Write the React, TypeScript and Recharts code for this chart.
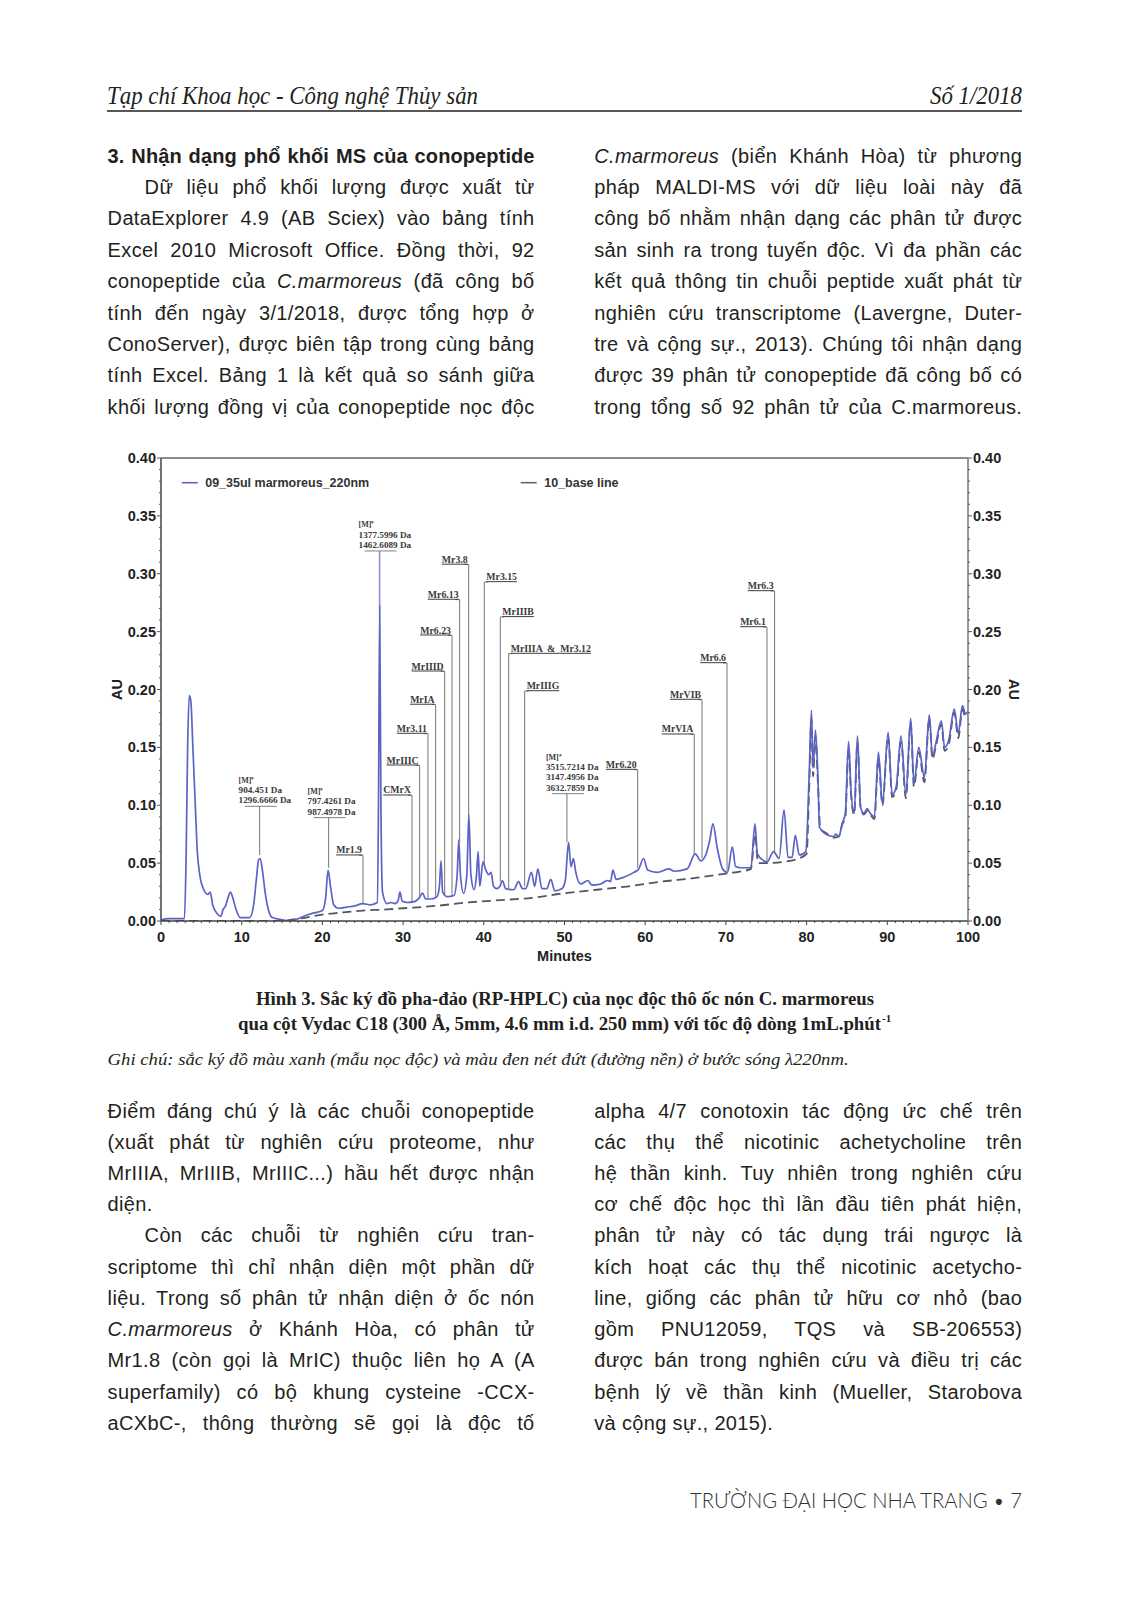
import React from 'react';
import { LineChart, Line, XAxis, YAxis, ReferenceLine, ReferenceDot } from 'recharts';

// chromatogram of the venom sample, [minutes, AU]
const sampleTrace: [number, number][] = [
  [0, 0.001], [1, 0.002], [2, 0.002], [2.9, 0.002], [3.1, 0.05], [3.3, 0.15], [3.5, 0.195], [3.7, 0.19],
  [3.95, 0.15], [4.25, 0.1], [4.5, 0.06], [4.8, 0.04], [5.3, 0.027], [5.8, 0.023], [6.1, 0.025], [6.4, 0.014],
  [7.0, 0.006], [7.4, 0.004], [7.7, 0.01], [8.0, 0.013], [8.3, 0.02], [8.6, 0.025], [8.9, 0.02], [9.3, 0.01],
  [9.8, 0.003], [11.0, 0.003], [11.5, 0.015], [11.8, 0.035], [12.1, 0.053], [12.3, 0.054], [12.6, 0.042],
  [12.9, 0.025], [13.3, 0.01], [13.8, 0.003], [15, 0.001], [16, 0.0], [17, 0.002], [18, 0.005], [19, 0.007],
  [20, 0.009], [20.4, 0.02], [20.7, 0.044], [21.0, 0.03], [21.4, 0.014], [22, 0.011], [23, 0.012], [24, 0.013],
  [25, 0.015], [26, 0.014], [26.8, 0.016], [26.95, 0.1], [27.1, 0.272], [27.25, 0.1], [27.45, 0.025],
  [28, 0.015], [28.5, 0.016], [29, 0.015], [29.4, 0.018], [29.6, 0.025], [29.9, 0.017], [30.5, 0.016],
  [31.5, 0.017], [32, 0.02], [32.4, 0.024], [32.8, 0.019], [33.5, 0.019], [34.2, 0.021], [34.5, 0.03],
  [34.7, 0.052], [34.9, 0.025], [35.5, 0.021], [36.3, 0.022], [36.7, 0.04], [36.9, 0.07], [37.1, 0.04],
  [37.5, 0.024], [37.9, 0.04], [38.15, 0.092], [38.4, 0.04], [38.8, 0.027], [39.1, 0.04], [39.3, 0.06],
  [39.5, 0.03], [39.9, 0.051], [40.2, 0.045], [40.6, 0.04], [40.9, 0.042], [41.2, 0.03], [41.6, 0.028],
  [42, 0.03], [42.3, 0.035], [42.7, 0.028], [43.7, 0.027], [44.3, 0.034], [44.8, 0.028], [45.2, 0.028],
  [45.9, 0.042], [46.3, 0.03], [46.7, 0.045], [47.2, 0.028], [47.8, 0.028], [48.3, 0.036], [48.8, 0.026],
  [49.7, 0.028], [50.1, 0.035], [50.5, 0.068], [50.8, 0.047], [51.1, 0.054], [51.4, 0.042], [52, 0.032],
  [52.9, 0.035], [53.4, 0.031], [54.5, 0.032], [55.3, 0.035], [55.7, 0.034], [56, 0.044], [56.4, 0.036],
  [57.4, 0.038], [58.6, 0.042], [59.2, 0.045], [59.8, 0.054], [60.3, 0.044], [61.5, 0.042], [62.9, 0.045],
  [63.6, 0.043], [65.2, 0.045], [66.2, 0.058], [66.9, 0.052], [67.5, 0.057], [68, 0.07], [68.4, 0.084],
  [68.9, 0.064], [69.6, 0.045], [70.2, 0.042], [70.8, 0.064], [71.2, 0.047], [71.8, 0.046], [73.1, 0.046],
  [73.6, 0.084], [73.9, 0.058], [74.7, 0.052], [75.1, 0.051], [75.9, 0.06], [76.6, 0.054], [77.2, 0.096],
  [77.7, 0.055], [78.2, 0.055], [78.6, 0.074], [79.1, 0.057], [79.9, 0.06], [80.3, 0.122], [80.6, 0.182],
  [80.8, 0.132], [81.1, 0.165], [81.4, 0.124], [81.6, 0.081], [82.4, 0.075], [83.4, 0.073], [83.6, 0.075],
  [84, 0.073], [84.4, 0.084], [84.8, 0.093], [85.2, 0.155], [85.5, 0.113], [85.9, 0.093], [86.3, 0.16],
  [86.7, 0.098], [87.1, 0.093], [87.5, 0.097], [87.9, 0.093], [88.4, 0.09], [88.9, 0.146], [89.4, 0.101],
  [90.1, 0.163], [90.6, 0.109], [91.1, 0.116], [91.7, 0.16], [92.3, 0.109], [92.9, 0.175], [93.3, 0.119],
  [93.9, 0.15], [94.6, 0.124], [95.2, 0.178], [95.6, 0.142], [96, 0.153], [96.7, 0.173], [97.1, 0.15],
  [97.6, 0.156], [98.3, 0.183], [98.8, 0.162], [99.3, 0.186], [99.7, 0.179], [100, 0.181],
];

// blank run (base line), [minutes, AU]
const baselineTrace: [number, number][] = [
  [0, 0.0], [5, 0.0], [10, 0.0], [15, 0.0], [16, 0.001], [18, 0.003], [20, 0.0055], [22, 0.007], [25, 0.009],
  [28, 0.01], [30, 0.011], [34, 0.013], [38, 0.016], [42, 0.018], [46, 0.02], [50, 0.024], [54, 0.027],
  [58, 0.03], [62, 0.034], [66, 0.037], [70, 0.041], [72, 0.043], [73.1, 0.045], [73.6, 0.075], [74, 0.05],
  [75, 0.05], [77, 0.051], [79, 0.054], [80, 0.058], [80.3, 0.11], [80.6, 0.175], [80.8, 0.125], [81.1, 0.16],
  [81.4, 0.12], [81.7, 0.08], [82.4, 0.076], [83.4, 0.072], [84, 0.073], [84.4, 0.083], [84.8, 0.09],
  [85.2, 0.15], [85.5, 0.11], [85.9, 0.092], [86.3, 0.155], [86.7, 0.097], [87.1, 0.092], [87.5, 0.095],
  [87.9, 0.092], [88.4, 0.088], [88.9, 0.14], [89.4, 0.1], [90.1, 0.16], [90.6, 0.107], [91.1, 0.113],
  [91.7, 0.155], [92.3, 0.106], [92.9, 0.172], [93.3, 0.116], [93.9, 0.146], [94.6, 0.12], [95.2, 0.175],
  [95.6, 0.14], [96, 0.15], [96.7, 0.17], [97.1, 0.147], [97.6, 0.152], [98.3, 0.18], [98.8, 0.158],
  [99.3, 0.183], [99.7, 0.176], [100, 0.178],
];

const seriesNames = ['09_35ul marmoreus_220nm', '10_base line'];
const seriesColors = ['#5b63c4', '#555560'];

const yMajorLabels = ['0.00', '0.05', '0.10', '0.15', '0.20', '0.25', '0.30', '0.35', '0.40'];
const xMajorLabels = ['0', '10', '20', '30', '40', '50', '60', '70', '80', '90', '100'];

// identified conopeptides: name, retention time, label height, foot of the marker line
const peptideNames = ['Mr1.9', 'CMrX', 'MrIIIC', 'Mr3.11', 'MrIA', 'MrIIID', 'Mr6.23', 'Mr6.13', 'Mr3.8',
  'Mr3.15', 'MrIIIB', 'MrIIIA  &  Mr3.12', 'MrIIIG', 'Mr6.20', 'MrVIA', 'MrVIB', 'Mr6.6', 'Mr6.1', 'Mr6.3'];
const peptideMinutes = [25.03, 31.1, 32.05, 33.08, 34.03, 35.15, 36.06, 37.0, 38.12,
  40.06, 42.05, 43.08, 45.06, 59.06, 66.08, 67.04, 70.14, 75.09, 76.03];
const peptideTops = [0.0568, 0.1086, 0.1345, 0.1619, 0.187, 0.2157, 0.2468, 0.2777, 0.308,
  0.2929, 0.2627, 0.231, 0.1987, 0.1308, 0.1613, 0.1913, 0.2229, 0.254, 0.2851];
const peptideBottoms = [0.0155, 0.017, 0.021, 0.019, 0.021, 0.022, 0.022, 0.068, 0.09,
  0.05, 0.034, 0.028, 0.03, 0.046, 0.057, 0.054, 0.043, 0.051, 0.058];
const peptideSides = ['L', 'L', 'L', 'L', 'L', 'L', 'L', 'L', 'L', 'R', 'R', 'R', 'R', 'L', 'L', 'L', 'L', 'L', 'L'];

// MALDI masses of unassigned peaks
const massTexts = [
  ['[M]⁺', '904.451 Da', '1296.6666 Da'],
  ['[M]⁺', '797.4261 Da', '987.4978 Da'],
  ['[M]⁺', '1377.5996 Da', '1462.6089 Da'],
  ['[M]⁺', '3515.7214 Da', '3147.4956 Da', '3632.7859 Da'],
];
const massMinutes = [12.22, 20.77, 27.09, 50.3];
const massTops = [0.0991, 0.0893, 0.3197, 0.11];
const massBottoms = [0.057, 0.046, 0.272, 0.068];

const xTicks = Array.from({ length: 101 }, (_, i) => i);
const yTicks = Array.from({ length: 41 }, (_, i) => i / 100);

type TL = { t: string; indent?: boolean; last?: boolean; bold?: boolean };

const topLeft: TL[] = [
  { t: '3. Nhận dạng phổ khối MS của conopeptide', bold: true },
  { t: 'Dữ liệu phổ khối lượng được xuất từ', indent: true },
  { t: 'DataExplorer 4.9 (AB Sciex) vào bảng tính' },
  { t: 'Excel 2010 Microsoft Office. Đồng thời, 92' },
  { t: 'conopeptide của *C.marmoreus* (đã công bố' },
  { t: 'tính đến ngày 3/1/2018, được tổng hợp ở' },
  { t: 'ConoServer), được biên tập trong cùng bảng' },
  { t: 'tính Excel. Bảng 1 là kết quả so sánh giữa' },
  { t: 'khối lượng đồng vị của conopeptide nọc độc' },
];
const topRight: TL[] = [
  { t: '*C.marmoreus* (biển Khánh Hòa) từ phương' },
  { t: 'pháp MALDI-MS với dữ liệu loài này đã' },
  { t: 'công bố nhằm nhận dạng các phân tử được' },
  { t: 'sản sinh ra trong tuyến độc. Vì đa phần các' },
  { t: 'kết quả thông tin chuỗi peptide xuất phát từ' },
  { t: 'nghiên cứu transcriptome (Lavergne, Duter-' },
  { t: 'tre và cộng sự., 2013). Chúng tôi nhận dạng' },
  { t: 'được 39 phân tử conopeptide đã công bố có' },
  { t: 'trong tổng số 92 phân tử của C.marmoreus.' },
];
const bottomLeft: TL[] = [
  { t: 'Điểm đáng chú ý là các chuỗi conopeptide' },
  { t: '(xuất phát từ nghiên cứu proteome, như' },
  { t: 'MrIIIA, MrIIIB, MrIIIC...) hầu hết được nhận' },
  { t: 'diện.', last: true },
  { t: 'Còn các chuỗi từ nghiên cứu tran-', indent: true },
  { t: 'scriptome thì chỉ nhận diện một phần dữ' },
  { t: 'liệu. Trong số phân tử nhận diện ở ốc nón' },
  { t: '*C.marmoreus* ở Khánh Hòa, có phân tử' },
  { t: 'Mr1.8 (còn gọi là MrIC) thuộc liên họ A (A' },
  { t: 'superfamily) có bộ khung cysteine -CCX-' },
  { t: 'aCXbC-, thông thường sẽ gọi là độc tố' },
];
const bottomRight: TL[] = [
  { t: 'alpha 4/7 conotoxin tác động ức chế trên' },
  { t: 'các thụ thể nicotinic achetycholine trên' },
  { t: 'hệ thần kinh. Tuy nhiên trong nghiên cứu' },
  { t: 'cơ chế độc học thì lần đầu tiên phát hiện,' },
  { t: 'phân tử này có tác dụng trái ngược là' },
  { t: 'kích hoạt các thụ thể nicotinic acetycho-' },
  { t: 'line, giống các phân tử hữu cơ nhỏ (bao' },
  { t: 'gồm PNU12059, TQS và SB-206553)' },
  { t: 'được bán trong nghiên cứu và điều trị các' },
  { t: 'bệnh lý về thần kinh (Mueller, Starobova' },
  { t: 'và cộng sự., 2015).', last: true },
];

const INK = '#231f20';
const SANS = '"Liberation Sans", Arial, sans-serif';
const SERIF = '"Liberation Serif", "Times New Roman", serif';

const TextLine = ({ x, y, w, line }: { x: number; y: number; w: number; line: TL }) => {
  const ind = line.indent ? 37 : 0;
  const parts = line.t.split('*');
  return (
    <div style={{
      position: 'absolute', left: x + ind, top: y - 16, width: w - ind, height: 32, lineHeight: '32px',
      fontSize: 20, fontFamily: SANS, fontWeight: line.bold ? 700 : 400, letterSpacing: line.bold ? 0.1 : 0.35,
      textAlign: 'justify', textAlignLast: line.last ? 'left' : 'justify', color: INK, whiteSpace: 'nowrap',
    }}>
      {parts.map((p, i) => (i % 2 ? <i key={i}>{p}</i> : <span key={i}>{p}</span>))}
    </div>
  );
};

const tickText = { fontFamily: SANS, fontSize: 14.5, fontWeight: 700, fill: '#222' };

const XTick = (props: any) => {
  const { x, y, payload } = props;
  const v = payload.value;
  const major = v % 10 === 0;
  return (
    <g>
      <line x1={x} x2={x} y1={y} y2={y + (major ? 4 : 2)} stroke="#444" strokeWidth={1} />
      {major && (
        <text x={x} y={y + 16} textAnchor="middle" dominantBaseline="central" style={tickText}>
          {xMajorLabels[v / 10]}
        </text>
      )}
    </g>
  );
};

const YTick = (props: any) => {
  const { x, y, payload, side } = props;
  const k = Math.round(payload.value * 100);
  const major = k % 5 === 0;
  const s = side === 'right' ? 1 : -1;
  return (
    <g>
      <line x1={x} x2={x + s * (major ? 4 : 2)} y1={y} y2={y} stroke="#555" strokeWidth={1} />
      {major && (
        <text x={x + s * 5} y={y} textAnchor={side === 'right' ? 'start' : 'end'} dominantBaseline="central" style={tickText}>
          {yMajorLabels[k / 5]}
        </text>
      )}
    </g>
  );
};

const PeptideTag = ({ cx, cy, name, side }: any) => {
  const left = side === 'L';
  return (
    <g>
      <line x1={left ? cx - 4 : cx} x2={left ? cx : cx + 4} y1={cy} y2={cy} stroke="#808080" strokeWidth={1.1} />
      <text x={left ? cx - 1 : cx + 2} y={cy - 1.8} textAnchor={left ? 'end' : 'start'}
        style={{ fontFamily: SERIF, fontSize: 9.8, fontWeight: 700, fill: '#3a3a3a', textDecoration: 'underline', whiteSpace: 'pre' }}>
        {name}
      </text>
    </g>
  );
};

const MassTag = ({ cx, cy, lines }: any) => {
  const n = lines.length;
  return (
    <g>
      <line x1={cx - 15} x2={cx + 17} y1={cy} y2={cy} stroke="#808080" strokeWidth={1} />
      {lines.map((s: string, i: number) => (
        <text key={i} x={cx - 21} y={cy - 3 - (n - 1 - i) * 10.3}
          style={{ fontFamily: SERIF, fontSize: i === 0 ? 8 : 9.2, fontWeight: 700, fill: '#3a3a3a' }}>
          {s}
        </text>
      ))}
    </g>
  );
};

const sampleData = sampleTrace.map(([t, au]) => ({ t, au }));
const baselineData = baselineTrace.map(([t, au]) => ({ t, au }));

const Chromatogram = () => (
  <div style={{ position: 'absolute', left: 100, top: 440, width: 930, height: 540 }}>
    <LineChart width={930} height={540} margin={{ top: 18, right: 12, bottom: 9, left: 11 }}>
      <XAxis dataKey="t" type="number" domain={[0, 100]} ticks={xTicks} interval={0} allowDataOverflow
        tickSize={0} tickMargin={0} height={50} tick={<XTick />} axisLine={{ stroke: '#444', strokeWidth: 1.5 }}
        label={{ content: ({ viewBox }: any) => (
          <text x={viewBox.x + viewBox.width / 2} y={viewBox.y + 35} textAnchor="middle" dominantBaseline="central"
            style={tickText}>Minutes</text>
        ) }} />
      <YAxis type="number" domain={[0, 0.4]} ticks={yTicks} interval={0} allowDataOverflow width={50}
        tickSize={0} tickMargin={0} tick={<YTick side="left" />} axisLine={{ stroke: '#444', strokeWidth: 1.5 }}
        label={{ content: ({ viewBox }: any) => (
          <text x={viewBox.x + 6} y={viewBox.y + viewBox.height / 2} textAnchor="middle" dominantBaseline="central"
            transform={`rotate(-90 ${viewBox.x + 6} ${viewBox.y + viewBox.height / 2})`}
            style={tickText}>AU</text>
        ) }} />
      <YAxis yAxisId="r" orientation="right" type="number" domain={[0, 0.4]} ticks={yTicks} interval={0} allowDataOverflow
        width={50} tickSize={0} tickMargin={0} tick={<YTick side="right" />} axisLine={{ stroke: '#777', strokeWidth: 1.5 }}
        label={{ content: ({ viewBox }: any) => (
          <text x={viewBox.x + 46} y={viewBox.y + viewBox.height / 2} textAnchor="middle" dominantBaseline="central"
            transform={`rotate(90 ${viewBox.x + 46} ${viewBox.y + viewBox.height / 2})`}
            style={tickText}>AU</text>
        ) }} />
      <ReferenceLine y={0.4} stroke="#8c8c8c" strokeWidth={2} />
      {peptideNames.map((n, i) => (
        <ReferenceLine key={'pl' + i} segment={[{ x: peptideMinutes[i], y: peptideBottoms[i] }, { x: peptideMinutes[i], y: peptideTops[i] }]}
          stroke="#808080" strokeWidth={1.1} />
      ))}
      {massTexts.map((_, i) => (
        <ReferenceLine key={'ml' + i} segment={[{ x: massMinutes[i], y: massBottoms[i] }, { x: massMinutes[i], y: massTops[i] }]}
          stroke={i === 2 ? '#8a90d8' : '#808080'} strokeWidth={i === 2 ? 1.6 : 1.1} />
      ))}
      <Line yAxisId="r" data={baselineData} dataKey="au" name={seriesNames[1]} type="monotone" stroke={seriesColors[1]}
        strokeWidth={1.8} strokeDasharray="9 5" dot={false} isAnimationActive={false} />
      <Line data={sampleData} dataKey="au" name={seriesNames[0]} type="monotone" stroke={seriesColors[0]} strokeWidth={1.7}
        dot={false} isAnimationActive={false} />
      {peptideNames.map((n, i) => (
        <ReferenceDot key={'pt' + i} x={peptideMinutes[i]} y={peptideTops[i]} r={1}
          shape={(p: any) => <PeptideTag cx={p.cx} cy={p.cy} name={n} side={peptideSides[i]} />} />
      ))}
      {massTexts.map((lines, i) => (
        <ReferenceDot key={'mt' + i} x={massMinutes[i]} y={massTops[i]} r={1}
          shape={(p: any) => <MassTag cx={p.cx} cy={p.cy} lines={lines} />} />
      ))}
    </LineChart>
    {/* legend */}
    <svg width={930} height={60} style={{ position: 'absolute', left: 0, top: 0, pointerEvents: 'none' }}>
      {[81.7, 420.7].map((lx, i) => (
        <g key={i}>
          <line x1={lx} x2={lx + 16} y1={42.7} y2={42.7} stroke={i === 0 ? seriesColors[0] : '#666'} strokeWidth={1.6} />
          <text x={lx + 23.5} y={42.7} dominantBaseline="central"
            style={{ fontFamily: SANS, fontSize: 12.5, fontWeight: 700, fill: '#333' }}>{seriesNames[i]}</text>
        </g>
      ))}
    </svg>
  </div>
);

export default function App() {
  return (
    <div style={{ position: 'absolute', left: 0, top: 0, width: 1133, height: 1606, background: '#fff', overflow: 'hidden' }}>
      <svg width={1133} height={1606} style={{ position: 'absolute', left: 0, top: 0 }}>
        <text x={107} y={104} textLength={371} lengthAdjust="spacingAndGlyphs"
          style={{ fontFamily: SERIF, fontStyle: 'italic', fontSize: 26, fill: INK }}>Tạp chí Khoa học - Công nghệ Thủy sản</text>
        <text x={930} y={104} textLength={92} lengthAdjust="spacingAndGlyphs"
          style={{ fontFamily: SERIF, fontStyle: 'italic', fontSize: 26, fill: INK }}>Số 1/2018</text>
        <line x1={107} x2={1022} y1={111} y2={111} stroke={INK} strokeWidth={1.3} />
        <text x={256} y={1005} textLength={618} lengthAdjust="spacingAndGlyphs"
          style={{ fontFamily: SERIF, fontWeight: 700, fontSize: 18, fill: INK }}>Hình 3. Sắc ký đồ pha-đảo (RP-HPLC) của nọc độc thô ốc nón C. marmoreus</text>
        <text x={238} y={1030} textLength={643} lengthAdjust="spacingAndGlyphs"
          style={{ fontFamily: SERIF, fontWeight: 700, fontSize: 18, fill: INK }}>qua cột Vydac C18 (300 Å, 5mm, 4.6 mm i.d. 250 mm) với tốc độ dòng 1mL.phút</text>
        <text x={882} y={1022} style={{ fontFamily: SERIF, fontWeight: 700, fontSize: 11, fill: INK }}>-1</text>
        <text x={107.6} y={1065} textLength={741} lengthAdjust="spacingAndGlyphs"
          style={{ fontFamily: SERIF, fontStyle: 'italic', fontSize: 17, fill: INK }}>Ghi chú: sắc ký đồ màu xanh (mẫu nọc độc) và màu đen nét đứt (đường nền) ở bước sóng λ220nm.</text>
        <text x={690} y={1508} textLength={332} lengthAdjust="spacingAndGlyphs"
          style={{ fontFamily: 'Lato, "Open Sans", sans-serif', fontWeight: 300, fontSize: 21, fill: '#333' }}>TRƯỜNG ĐẠI HỌC NHA TRANG • 7</text>
      </svg>
      {topLeft.map((l, i) => <TextLine key={'a' + i} x={107.6} y={155.7 + 31.38 * i} w={427} line={l} />)}
      {topRight.map((l, i) => <TextLine key={'b' + i} x={594.2} y={155.7 + 31.38 * i} w={428} line={l} />)}
      {bottomLeft.map((l, i) => <TextLine key={'c' + i} x={107.6} y={1110.5 + 31.24 * i} w={427} line={l} />)}
      {bottomRight.map((l, i) => <TextLine key={'d' + i} x={594.2} y={1110.5 + 31.24 * i} w={428} line={l} />)}
      <Chromatogram />
    </div>
  );
}
